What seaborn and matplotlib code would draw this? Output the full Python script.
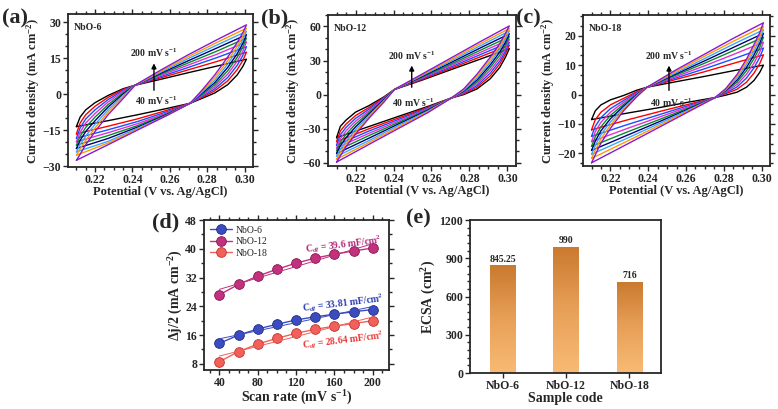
import numpy as np
import pandas as pd
import seaborn as sns
import matplotlib.pyplot as plt
from matplotlib.ticker import AutoMinorLocator
from matplotlib.colors import LinearSegmentedColormap

sns.set_style('ticks')
plt.rcParams['font.family'] = ['Liberation Serif', 'DejaVu Serif']
plt.rcParams['font.weight'] = 'bold'
plt.rcParams['axes.labelweight'] = 'bold'
plt.rcParams['mathtext.fontset'] = 'custom'
plt.rcParams['mathtext.rm'] = 'Liberation Serif:bold'
plt.rcParams['mathtext.it'] = 'Liberation Serif:italic:bold'
plt.rcParams['mathtext.bf'] = 'Liberation Serif:bold'

scan_rates = [40, 60, 80, 100, 120, 140, 160, 180, 200]
cv_colors = ['#000000', '#ff0000', '#1a4dff', '#e030d8', '#0a8a2a',
             '#00007a', '#3aa8ff', '#ff9a00', '#8a1ad0']

# ---- CV of NbO-6 (mA cm-2), forward branch then reverse branch
v_fwd_6 = [0.210, 0.212, 0.215, 0.220, 0.227, 0.235, 0.2414, 0.255, 0.270, 0.285, 0.301]
v_rev_6 = [0.301, 0.299, 0.296, 0.291, 0.284, 0.277, 0.2709, 0.258, 0.243, 0.227, 0.210]
j_fwd_6 = [
    [-13.5, -9.5, -6.5, -3.5, -0.5, 2.3, 3.75, 6.2, 9.0, 11.7, 14.6],
    [-16.5, -12.0, -8.5, -5.0, -1.3, 2.0, 3.75, 6.8, 10.2, 13.6, 17.5],
    [-18.3, -14.0, -10.3, -6.5, -2.2, 1.6, 3.75, 7.3, 11.2, 15.2, 19.8],
    [-19.8, -15.8, -12.0, -8.0, -3.2, 1.2, 3.75, 7.8, 12.2, 16.6, 21.8],
    [-21.2, -17.5, -13.8, -9.5, -4.3, 0.6, 3.75, 8.3, 13.1, 17.9, 23.4],
    [-22.6, -19.2, -15.5, -11.0, -5.3, 0.1, 3.75, 8.7, 14.0, 19.2, 24.8],
    [-24.0, -20.9, -17.4, -12.5, -6.4, -0.5, 3.75, 9.1, 14.9, 20.4, 26.2],
    [-25.4, -22.7, -19.2, -14.0, -7.4, -1.1, 3.75, 9.5, 15.7, 21.5, 27.5],
    [-27.5, -25.0, -21.0, -15.5, -8.5, -1.8, 3.75, 10.0, 16.5, 22.6, 28.9],
]
j_rev_6 = [
    [14.6, 11.5, 8.0, 4.0, 0.5, -1.8, -3.75, -6.0, -8.5, -11.0, -13.5],
    [17.5, 14.0, 10.2, 5.6, 1.4, -1.4, -3.75, -6.8, -10.2, -13.3, -16.5],
    [19.8, 16.1, 12.0, 7.0, 2.2, -1.0, -3.75, -7.4, -11.3, -14.8, -18.3],
    [21.8, 17.9, 13.7, 8.4, 3.0, -0.6, -3.75, -7.9, -12.2, -16.0, -19.8],
    [23.4, 19.6, 15.3, 9.8, 3.9, -0.2, -3.75, -8.3, -13.0, -17.2, -21.2],
    [24.8, 21.1, 16.8, 11.2, 4.8, 0.3, -3.75, -8.6, -13.6, -18.4, -22.6],
    [26.2, 22.6, 18.3, 12.6, 5.8, 0.7, -3.75, -8.9, -14.1, -19.6, -24.0],
    [27.5, 24.0, 19.9, 14.0, 6.9, 1.1, -3.75, -9.0, -14.5, -20.3, -25.4],
    [28.9, 25.5, 21.5, 15.5, 8.0, 1.5, -3.75, -9.0, -14.8, -21.0, -27.5],
]

# ---- CV of NbO-12
v_fwd_12 = [0.210, 0.212, 0.215, 0.220, 0.227, 0.235, 0.2405, 0.255, 0.270, 0.285, 0.301]
v_rev_12 = [0.301, 0.299, 0.296, 0.291, 0.284, 0.277, 0.2705, 0.258, 0.243, 0.227, 0.210]
j_fwd_12 = [
    [-38.0, -28.0, -22.5, -15.5, -9.8, -2.0, 4.5, 12.7, 21.8, 30.8, 40.5],
    [-41.5, -32.0, -26.0, -18.5, -11.5, -2.5, 4.5, 13.3, 23.0, 32.8, 43.5],
    [-44.5, -35.5, -29.0, -21.0, -13.0, -3.0, 4.5, 14.0, 24.2, 34.7, 46.0],
    [-47.0, -39.0, -32.0, -23.5, -14.5, -3.5, 4.5, 14.6, 25.4, 36.6, 48.5],
    [-49.5, -42.0, -35.0, -26.0, -16.0, -4.0, 4.5, 15.3, 26.6, 38.5, 51.0],
    [-52.0, -45.0, -38.0, -28.5, -17.3, -4.6, 4.5, 16.0, 28.0, 40.5, 53.5],
    [-54.5, -48.0, -41.0, -30.8, -18.6, -5.3, 4.5, 16.7, 29.3, 42.4, 56.0],
    [-57.0, -51.0, -43.5, -33.0, -19.8, -5.9, 4.5, 17.3, 30.6, 44.2, 58.2],
    [-59.5, -54.0, -46.0, -35.0, -21.0, -6.5, 4.5, 18.0, 32.0, 46.0, 60.5],
]
j_rev_12 = [
    [40.5, 33.0, 24.0, 14.0, 5.0, 0.0, -3.0, -10.5, -19.0, -28.2, -38.0],
    [43.5, 36.0, 27.0, 16.5, 6.5, 0.6, -3.0, -11.2, -20.4, -30.2, -41.5],
    [46.0, 38.5, 29.5, 19.0, 8.0, 1.2, -3.0, -11.8, -21.7, -32.2, -44.5],
    [48.5, 41.0, 32.0, 21.5, 9.6, 1.8, -3.0, -12.5, -23.0, -34.2, -47.0],
    [51.0, 43.5, 34.8, 24.0, 11.2, 2.5, -3.0, -13.2, -24.3, -36.2, -49.5],
    [53.5, 46.2, 37.5, 26.3, 12.9, 3.2, -3.0, -13.9, -25.6, -38.5, -52.0],
    [56.0, 49.0, 40.0, 28.6, 14.6, 3.8, -3.0, -14.6, -26.9, -40.6, -54.5],
    [58.2, 51.5, 42.5, 30.8, 16.3, 4.4, -3.0, -15.3, -28.2, -42.3, -57.0],
    [60.5, 54.0, 45.0, 33.0, 18.0, 5.0, -3.0, -16.0, -29.5, -44.0, -59.5],
]

# ---- CV of NbO-18
v_fwd_18 = [0.210, 0.212, 0.215, 0.220, 0.227, 0.234, 0.2394, 0.255, 0.270, 0.285, 0.301]
v_rev_18 = [0.301, 0.299, 0.296, 0.292, 0.287, 0.281, 0.2755, 0.262, 0.247, 0.229, 0.210]
j_fwd_18 = [
    [-8.5, -5.5, -3.5, -1.8, -0.3, 1.5, 2.5, 4.4, 6.2, 8.1, 10.0],
    [-12.0, -8.5, -6.0, -3.5, -1.3, 1.0, 2.5, 5.2, 7.8, 10.6, 13.5],
    [-14.2, -10.8, -7.8, -4.8, -2.0, 0.7, 2.5, 5.7, 8.8, 12.1, 15.8],
    [-16.0, -12.6, -9.4, -6.0, -2.6, 0.4, 2.5, 6.2, 9.8, 13.6, 17.8],
    [-17.6, -14.3, -10.9, -7.1, -3.3, 0.1, 2.5, 6.7, 10.7, 14.9, 19.5],
    [-19.0, -15.8, -12.3, -8.2, -3.9, -0.1, 2.5, 7.1, 11.5, 16.0, 20.8],
    [-20.3, -17.3, -13.6, -9.3, -4.5, -0.3, 2.5, 7.5, 12.3, 17.1, 22.0],
    [-21.7, -18.9, -15.0, -10.4, -5.0, -0.5, 2.5, 8.0, 13.1, 18.1, 23.2],
    [-23.2, -20.5, -16.5, -11.5, -5.5, -0.7, 2.5, 8.5, 13.8, 19.1, 24.4],
]
j_rev_18 = [
    [10.0, 7.5, 4.8, 2.5, 0.8, -0.2, -1.0, -2.5, -4.3, -6.3, -8.5],
    [13.5, 10.5, 7.3, 4.2, 1.8, 0.3, -1.0, -3.2, -5.6, -8.6, -12.0],
    [15.8, 12.6, 9.1, 5.6, 2.6, 0.6, -1.0, -3.6, -6.6, -10.2, -14.2],
    [17.8, 14.4, 10.7, 6.9, 3.4, 0.9, -1.0, -4.0, -7.4, -11.5, -16.0],
    [19.5, 16.0, 12.2, 8.1, 4.2, 1.2, -1.0, -4.4, -8.2, -12.7, -17.6],
    [20.8, 17.4, 13.5, 9.2, 4.9, 1.4, -1.0, -4.7, -8.9, -13.8, -19.0],
    [22.0, 18.6, 14.7, 10.2, 5.5, 1.6, -1.0, -5.0, -9.5, -14.8, -20.3],
    [23.2, 19.8, 15.9, 11.1, 6.2, 1.8, -1.0, -5.3, -10.1, -15.8, -21.7],
    [24.4, 21.0, 17.0, 12.0, 6.8, 2.0, -1.0, -5.6, -10.7, -16.8, -23.2],
]

# ---- (d) half current density difference vs scan rate
rate_d = [40, 60, 80, 100, 120, 140, 160, 180, 200]
dj_6 = [13.7, 16.0, 17.7, 19.0, 20.2, 21.1, 21.8, 22.5, 23.1]
dj_12 = [27.2, 30.1, 32.4, 34.3, 36.0, 37.4, 38.5, 39.4, 40.2]
dj_18 = [8.6, 11.4, 13.5, 15.1, 16.5, 17.6, 18.5, 19.2, 20.0]
cdl_text = ['33.81', '39.6', '28.64']

# ---- (e) ECSA
samples = ['NbO-6', 'NbO-12', 'NbO-18']
ecsa = [845.25, 990, 716]


def cv_frame(v_fwd, v_rev, j_fwd, j_rev):
    rows = []
    for rate, jf, jr in zip(scan_rates, j_fwd, j_rev):
        v = v_fwd + v_rev[1:]
        j = jf + jr[1:]
        for k in range(len(v)):
            rows.append((str(rate), k, v[k], j[k]))
    return pd.DataFrame(rows, columns=['rate', 'step', 'V', 'j'])


def style_axes(ax, xminor, yminor, mirror=True):
    for sp in ax.spines.values():
        sp.set_linewidth(1.3)
        sp.set_visible(True)
    ax.xaxis.set_minor_locator(AutoMinorLocator(xminor))
    ax.yaxis.set_minor_locator(AutoMinorLocator(yminor))
    ax.tick_params(which='both', direction='out', top=mirror, right=mirror,
                   width=1.0, labelsize=8.5, pad=1.5)
    ax.tick_params(which='major', length=3.5)
    ax.tick_params(which='minor', length=2)
    for t in ax.get_xticklabels() + ax.get_yticklabels():
        t.set_fontweight('bold')


def draw_cv(ax, df, name, yticks, ylim, arrow_x, a0, a1, lo_y, hi_y):
    pal = dict(zip([str(r) for r in scan_rates], cv_colors))
    sns.lineplot(data=df, x='V', y='j', hue='rate', palette=pal, sort=False,
                 estimator=None, lw=1.0, legend=False, ax=ax)
    ax.set_xlim(0.2055, 0.3045)
    ax.set_ylim(*ylim)
    ax.set_xticks([0.22, 0.24, 0.26, 0.28, 0.30])
    ax.set_yticks(yticks)
    style_axes(ax, 4, 3)
    ax.set_xlabel('Potential (V vs. Ag/AgCl)', fontsize=9, labelpad=0)
    ax.set_ylabel('Current density (mA cm$^{-2}$)', fontsize=9, labelpad=0)
    ax.text(0.03, 0.94, name, transform=ax.transAxes, fontsize=7,
            fontweight='bold', va='top', ha='left')
    ax.annotate('', xy=(arrow_x, a1), xytext=(arrow_x, a0),
                arrowprops=dict(arrowstyle='-|>', color='black', lw=1.0,
                                mutation_scale=7))
    ax.text(arrow_x, hi_y, '200 mV s$^{-1}$', fontsize=7, ha='center', va='bottom')
    ax.text(arrow_x + 0.001, lo_y, '40 mV s$^{-1}$', fontsize=7, ha='center', va='top')


fig = plt.figure(figsize=(7.78, 4.09), dpi=100)
ax_a = fig.add_axes([0.0874, 0.5917, 0.2378, 0.374])
ax_b = fig.add_axes([0.4216, 0.594, 0.2416, 0.369])
ax_c = fig.add_axes([0.7494, 0.594, 0.2404, 0.369])
ax_d = fig.add_axes([0.2622, 0.0954, 0.2378, 0.3667])
ax_e = fig.add_axes([0.6041, 0.088, 0.2455, 0.374])

draw_cv(ax_a, cv_frame(v_fwd_6, v_rev_6, j_fwd_6, j_rev_6), 'NbO-6',
        [-30, -15, 0, 15, 30], (-30.3, 33.4), 0.2515, 0.5, 14.0, -0.3, 14.5)
draw_cv(ax_b, cv_frame(v_fwd_12, v_rev_12, j_fwd_12, j_rev_12), 'NbO-12',
        [-60, -30, 0, 30, 60], (-63, 70), 0.2496, 4.0, 28.0, -2.0, 29.0)
draw_cv(ax_c, cv_frame(v_fwd_18, v_rev_18, j_fwd_18, j_rev_18), 'NbO-18',
        [-20, -10, 0, 10, 20], (-24.3, 27), 0.251, 0.5, 10.8, -0.6, 11.2)

# ---- (d)
d_colors = ['#3b4cc0', '#c2307e', '#f2605a']
d_edges = ['#1d2a80', '#801850', '#c03030']
for y, c, ec, lab in zip([dj_6, dj_12, dj_18], d_colors, d_edges, samples):
    sns.lineplot(x=rate_d, y=y, color=c, marker='o', markersize=7,
                 markeredgecolor=ec, markeredgewidth=0.6, lw=1.0, label=lab, ax=ax_d)
    sns.regplot(x=rate_d, y=y, scatter=False, ci=None, color=c,
                line_kws=dict(lw=0.7), ax=ax_d)
ax_d.set_xlim(24, 217)
ax_d.set_ylim(6.3, 48)
ax_d.set_xticks([40, 80, 120, 160, 200])
ax_d.set_yticks([8, 16, 24, 32, 40, 48])
style_axes(ax_d, 4, 2)
ax_d.set_xlabel('Scan rate (mV s$^{-1}$)', fontsize=10, labelpad=0)
ax_d.set_ylabel(r'$\Delta$j/2 (mA cm$^{-2}$)', fontsize=10, labelpad=0)
ax_d.legend(loc='upper left', frameon=False, fontsize=7, handlelength=2.3,
            borderaxespad=0.2, labelspacing=0.25, handletextpad=0.4)
for t in ax_d.get_legend().get_texts():
    t.set_fontweight('normal')
ax_d.text(169, 41.3, 'C$_{dl}$ = ' + cdl_text[1] + ' mF/cm$^{2}$', color='#b02a78',
          fontsize=7, ha='center', va='center', rotation=7)
ax_d.text(169, 25.0, 'C$_{dl}$ = ' + cdl_text[0] + ' mF/cm$^{2}$', color='#2a3cb0',
          fontsize=7, ha='center', va='center', rotation=7)
ax_d.text(169, 14.7, 'C$_{dl}$ = ' + cdl_text[2] + ' mF/cm$^{2}$', color='#e83838',
          fontsize=7, ha='center', va='center', rotation=7)

# ---- (e)
sns.barplot(x=samples, y=ecsa, width=0.4, color='#e09a50', ax=ax_e)
grad_cmap = LinearSegmentedColormap.from_list('bar', ['#f8bb74', '#e8a058', '#c97a2e'])
grad = np.linspace(0, 1, 256).reshape(-1, 1)
for p in ax_e.patches:
    x0, y0 = p.get_x(), p.get_y()
    w, h = p.get_width(), p.get_height()
    p.set_facecolor('none')
    p.set_edgecolor('none')
    im = ax_e.imshow(grad, extent=[x0, x0 + w, y0, y0 + h], origin='lower',
                     aspect='auto', cmap=grad_cmap, zorder=2)
    im.set_clip_path(p)
ax_e.bar_label(ax_e.containers[0], fmt='%g', fontsize=7, fontweight='bold', padding=1)
ax_e.set_xlim(-0.52, 2.5)
ax_e.set_ylim(0, 1200)
ax_e.set_yticks([0, 300, 600, 900, 1200])
style_axes(ax_e, 1, 5, mirror=False)
ax_e.tick_params(axis='x', which='minor', bottom=False)
ax_e.set_xlabel('Sample code', fontsize=10, labelpad=0)
ax_e.set_ylabel('ECSA (cm$^{2}$)', fontsize=10, labelpad=1)

for lab, x, y in [('(a)', 0.002, 0.955), ('(b)', 0.336, 0.955), ('(c)', 0.663, 0.955),
                  ('(d)', 0.195, 0.455), ('(e)', 0.522, 0.466)]:
    fig.text(x, y, lab, fontsize=16, fontweight='bold', ha='left', va='center')

fig.savefig('out.png', dpi=100)
